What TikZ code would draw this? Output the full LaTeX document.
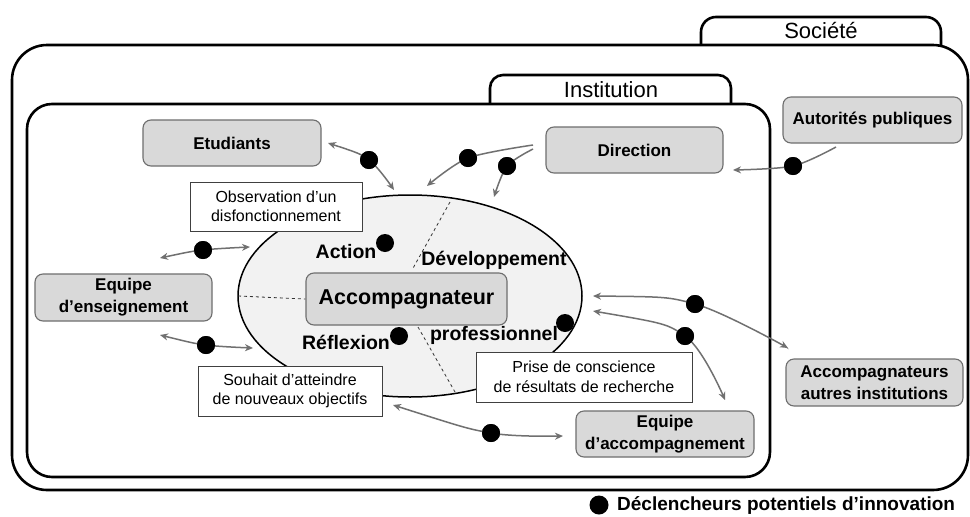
\documentclass[tikz,border=0pt]{standalone}
\usepackage{fontspec}
\setmainfont{Liberation Sans}
\usetikzlibrary{arrows.meta,shapes.geometric}
\pgfdeclarelayer{bg}
\pgfsetlayers{bg,main}
\definecolor{boxfill}{HTML}{D9D9D9}
\definecolor{boxline}{HTML}{6E6E6E}
\definecolor{ellfill}{HTML}{F2F2F2}
\definecolor{arrcol}{HTML}{707070}
\definecolor{txtline}{HTML}{404040}
\newcommand\myboxfont{\fontsize{17}{22}\selectfont\bfseries}
\newcommand\mynotefont{\fontsize{16}{19.5}\selectfont}
\newcommand\myellfont{\fontsize{19.5}{22}\selectfont\bfseries}
\begin{document}
\begin{tikzpicture}[x=1pt,y=-1pt,
  frame/.style={line width=2.6pt},
  graybox/.style={draw=boxline, line width=1.1pt, fill=boxfill, rounded corners=8pt,
    align=center, inner sep=0pt, font=\myboxfont},
  notebox/.style={draw=txtline, line width=1pt, fill=white, align=center, inner sep=0pt, font=\mynotefont},
  ellab/.style={inner sep=0pt, font=\myellfont},
  dot/.style={circle, fill=black, inner sep=0pt, minimum size=18pt},
  arr/.style={draw=arrcol, line width=1.5pt, -{Stealth[length=8pt,width=7pt]}},
  darr/.style={draw=arrcol, line width=1.5pt, {Stealth[length=8pt,width=7pt]}-{Stealth[length=8pt,width=7pt]}},
  dashln/.style={dashed, line width=0.8pt, draw=black!80}
]
\useasboundingbox (0,0) rectangle (970,517);

% Société frame
\draw[frame, rounded corners=35pt] (12,45) rectangle (968,490);
\draw[frame, rounded corners=15pt] (701,45) -- (701,17) -- (941,17) -- (941,45);
\node[font=\fontsize{22}{24}\selectfont] (soc) at (821,31) {Société};

% Institution frame
\draw[frame, rounded corners=25pt, fill=white] (27,104) rectangle (770,477);
\draw[frame, rounded corners=13pt] (490,104) -- (490,75) -- (731,75) -- (731,104);
\node[font=\fontsize{22}{24}\selectfont] (inst) at (611,90) {Institution};

% Ellipse
\node[ellipse, draw=black, line width=1.5pt, fill=ellfill, minimum width=344pt, minimum height=202pt, inner sep=0pt] (ell) at (410,296) {};

% dashed separators
\coordinate (dl1) at (238,296);
\coordinate (du1) at (450,202);
\coordinate (du2) at (412,270);
\coordinate (dd1) at (418,327);
\coordinate (dd2) at (455,392);

% Boxes
\node[graybox, minimum width=178pt, minimum height=46pt] (etu) at (232,143) {Etudiants};
\node[graybox, minimum width=177pt, minimum height=46pt] (dir) at (634.5,150) {Direction};
\node[graybox, minimum width=179pt, minimum height=46pt] (aut) at (872.5,120) {Autorités publiques};
\node[graybox, minimum width=177pt, minimum height=47pt] (ens) at (123.5,297.5) {Equipe\\d’enseignement};
\node[graybox, minimum width=201pt, minimum height=52pt, font=\fontsize{21.5}{24}\selectfont\bfseries] (acc) at (406.5,299) {Accompagnateur};
\node[graybox, minimum width=178pt, minimum height=46pt] (eacc) at (665,434) {Equipe\\d’accompagnement};
\node[graybox, minimum width=177pt, minimum height=47pt] (aai) at (874.5,382.5) {Accompagnateurs\\autres institutions};

\draw[dashln] (dl1) -- (acc.west);
\draw[dashln] (du1) -- (du2);
\draw[dashln] (dd1) -- (dd2);

% Note boxes
\node[notebox, minimum width=172pt, minimum height=49pt] (obs) at (276,206.5) {Observation d’un\\disfonctionnement};
\node[notebox, minimum width=184pt, minimum height=50pt] (sou) at (290,391) {Souhait d’atteindre\\de nouveaux objectifs};
\node[notebox, minimum width=216pt, minimum height=50pt] (pri) at (584,377) {Prise de conscience\\de résultats de recherche};

% Ellipse labels
\node[ellab] (act) at (346,252) {Action};
\node[ellab] (dev) at (494,260) {Développement};
\node[ellab] (ref) at (346,342) {Réflexion};
\node[ellab] (pro) at (494,335) {professionnel};

% Dots
\node[dot] (dact) at (385,243) {};
\node[dot] (dref) at (399,336) {};
\node[dot] (dpro) at (565,323) {};
\node[dot] (d1) at (369,160) {};
\node[dot] (d2) at (468,158) {};
\node[dot] (d3) at (507,166) {};
\node[dot] (d4) at (793,166) {};
\node[dot] (d5) at (203,250) {};
\node[dot] (d6) at (206,345) {};
\node[dot] (d7) at (491,433) {};
\node[dot] (d8) at (695,304) {};
\node[dot] (d9) at (685,336) {};

% arrow end coordinates
\coordinate (a1s) at (328,143); \coordinate (a1e) at (394,190);
\coordinate (a2s) at (533,145); \coordinate (a2e) at (427,186);
\coordinate (a3s) at (533,149); \coordinate (a3e) at (494,197);
\coordinate (a4s) at (836,147); \coordinate (a4e) at (733,170);
\coordinate (a5s) at (160,258); \coordinate (a5e) at (250,247);
\coordinate (a6s) at (160,335); \coordinate (a6e) at (253,348);
\coordinate (a7s) at (393,405); \coordinate (a7e) at (563,436);
\coordinate (a8s) at (593,296); \coordinate (a8e) at (788,348);
\coordinate (a9s) at (593,311); \coordinate (a9e) at (725,400);

\begin{pgfonlayer}{bg}
\end{pgfonlayer}

\draw[darr] plot[smooth] coordinates {(a1s) (d1.center) (a1e)};
\draw[arr] plot[smooth] coordinates {(a2s) (d2.center) (a2e)};
\draw[arr] plot[smooth] coordinates {(a3s) (d3.center) (a3e)};
\draw[arr] plot[smooth] coordinates {(a4s) (d4.center) (a4e)};
\draw[darr] plot[smooth] coordinates {(a5s) (d5.center) (a5e)};
\draw[darr] plot[smooth] coordinates {(a6s) (d6.center) (a6e)};
\draw[darr] plot[smooth] coordinates {(a7s) (d7.center) (a7e)};
\draw[darr] plot[smooth] coordinates {(a8s) (d8.center) (a8e)};
\draw[darr] plot[smooth] coordinates {(a9s) (d9.center) (a9e)};

% redraw dots on top
\foreach \d in {d1,d2,d3,d4,d5,d6,d7,d8,d9} {\fill (\d) circle (9pt);}

% Legend
\node[dot, minimum size=19pt] (ldot) at (599,505) {};
\node[anchor=west, inner sep=0pt, font=\fontsize{19}{21}\selectfont\bfseries] (leg) at (617,505) {Déclencheurs potentiels d’innovation};
\end{tikzpicture}
\end{document}
